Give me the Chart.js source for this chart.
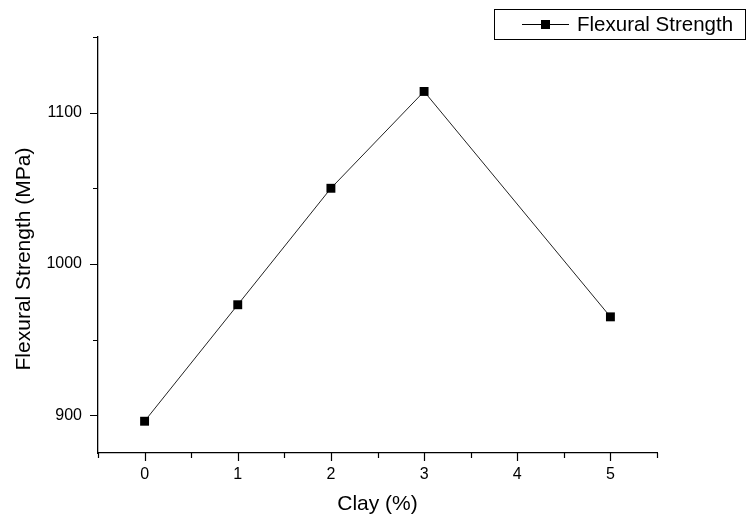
<!DOCTYPE html>
<html>
<head>
    <title>Flexural Strength</title>
    <script src="https://cdn.jsdelivr.net/npm/chart.js"></script>
    <style>
        body { margin: 0; background: #fff; }
        #wrap { width: 747px; height: 516px; }
    </style>
</head>
<body>
    <div id="wrap"><canvas id="flexChart"></canvas></div>

    <script>
    // teor de argila (%) e resistência à flexão (MPa)
    const clay = [0, 1, 2, 3, 5];
    const flexural = [896, 973, 1050, 1114, 965];
    const xTicks = [0, 1, 2, 3, 4, 5];
    const yTicks = [900, 1000, 1100];
    const yTitle = 'Flexural Strength (MPa)';

    const FONT = "'Liberation Sans', Arial, sans-serif";

    // marcas dos eixos: maiores nos valores inteiros, menores no meio
    const tickMarks = {
        id: 'tickMarks',
        afterDraw(chart) {
            const ctx = chart.ctx;
            const xs = chart.scales.x, ys = chart.scales.y;
            ctx.save();
            ctx.strokeStyle = '#000';
            ctx.lineWidth = 1.2;
            ctx.beginPath();
            for (let v = xs.min; v <= xs.max + 1e-9; v += 0.5) {
                const px = Math.round(xs.getPixelForValue(v)) + 0.5;
                const len = Number.isInteger(v) ? 8 : 5;
                ctx.moveTo(px, ys.bottom);
                ctx.lineTo(px, ys.bottom + len);
            }
            for (let v = 900; v <= ys.max + 1e-9; v += 50) {
                const py = Math.round(ys.getPixelForValue(v)) + 0.5;
                const len = v % 100 === 0 ? 8 : 5;
                ctx.moveTo(xs.left, py);
                ctx.lineTo(xs.left - len, py);
            }
            ctx.stroke();
            ctx.restore();
        }
    };

    // título do eixo y, um pouco abaixo do centro do eixo
    const yAxisTitle = {
        id: 'yAxisTitle',
        afterDraw(chart) {
            const ctx = chart.ctx;
            const ys = chart.scales.y;
            ctx.save();
            ctx.translate(24, (ys.top + ys.bottom) / 2 + 14);
            ctx.rotate(-Math.PI / 2);
            ctx.font = '21px ' + FONT;
            ctx.fillStyle = '#000';
            ctx.textAlign = 'center';
            ctx.textBaseline = 'middle';
            ctx.fillText(yTitle, 0, 0);
            ctx.restore();
        }
    };

    // legenda com moldura no canto superior direito
    const boxLegend = {
        id: 'boxLegend',
        afterDraw(chart) {
            const ctx = chart.ctx;
            const ds = chart.data.datasets[0];
            const x0 = 494, y0 = 9, w = 251, h = 30;
            ctx.save();
            ctx.strokeStyle = '#000';
            ctx.lineWidth = 1;
            ctx.strokeRect(x0 + 0.5, y0 + 0.5, w, h);
            const cy = y0 + h / 2 + 0.5;
            ctx.beginPath();
            ctx.moveTo(x0 + 28, cy);
            ctx.lineTo(x0 + 75, cy);
            ctx.stroke();
            ctx.fillStyle = '#000';
            ctx.fillRect(x0 + 47, cy - 4.5, 9, 9);
            ctx.font = '20.5px ' + FONT;
            ctx.textBaseline = 'middle';
            ctx.fillText(ds.label, x0 + 83, cy + 1);
            ctx.restore();
        }
    };

    new Chart(document.getElementById('flexChart'), {
        type: 'line',
        data: {
            datasets: [{
                label: 'Flexural Strength',
                data: clay.map((c, i) => ({ x: c, y: flexural[i] })),
                borderColor: '#222',
                borderWidth: 1,
                pointStyle: 'rect',
                pointRadius: 6.3,
                pointBackgroundColor: '#000',
                pointBorderColor: '#000',
                pointBorderWidth: 0,
                tension: 0
            }]
        },
        options: {
            responsive: true,
            maintainAspectRatio: false,
            animation: false,
            layout: { padding: { top: 37, right: 90, left: 0, bottom: 0 } },
            plugins: { legend: { display: false }, tooltip: { enabled: false } },
            scales: {
                x: {
                    type: 'linear',
                    min: -0.5,
                    max: 5.5,
                    afterBuildTicks: s => { s.ticks = xTicks.map(v => ({ value: v })); },
                    afterFit: s => { s.height = 63; },
                    grid: { display: false, drawTicks: false },
                    border: { display: true, color: '#000', width: 1.3 },
                    ticks: {
                        color: '#000', padding: 12, font: { family: FONT, size: 16 },
                        callback: v => String(v)
                    },
                    title: {
                        display: true, text: 'Clay (%)', color: '#000',
                        padding: { top: 0, bottom: -1 }, font: { family: FONT, size: 21 }
                    }
                },
                y: {
                    min: 875,
                    max: 1150,
                    afterBuildTicks: s => { s.ticks = yTicks.map(v => ({ value: v })); },
                    afterFit: s => { s.width = 98; },
                    grid: { display: false, drawTicks: false },
                    border: { display: true, color: '#000', width: 1.3 },
                    ticks: {
                        color: '#000', padding: 16, font: { family: FONT, size: 16 },
                        callback: v => String(v)
                    }
                }
            }
        },
        plugins: [tickMarks, yAxisTitle, boxLegend]
    });
    </script>
</body>
</html>
